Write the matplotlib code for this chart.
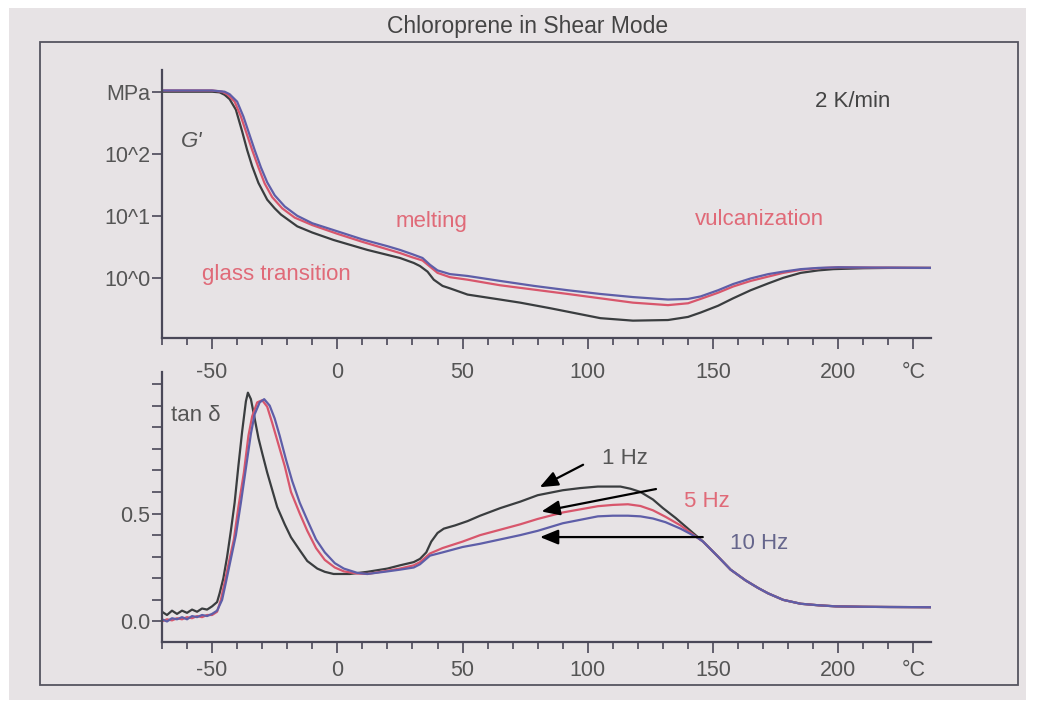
import matplotlib
matplotlib.use('Agg')
import matplotlib.pyplot as plt
import numpy as np
from matplotlib.patches import Rectangle

plt.rcParams['font.family'] = ['Liberation Sans', 'DejaVu Sans']

# storage modulus G' (log10 of MPa)
T_G_1hz = [-70, -60, -50, -47, -45, -43, -40.5, -38, -36, -34, -31.5, -28, -25, -22.5, -16, -10, -1.5, 12, 25, 30.5,
           33, 36, 38.5, 42, 45, 52, 65, 73, 85, 105, 118, 132, 140, 145, 152, 158, 165, 172, 178, 185,
           192, 198, 210, 220, 237]
logG_1hz = [3.0, 3.0, 3.0, 2.99, 2.95, 2.88, 2.71, 2.36, 2.06, 1.80, 1.53, 1.26, 1.12, 1.02, 0.83, 0.73, 0.61, 0.45, 0.32, 0.24,
            0.19, 0.10, -0.03, -0.13, -0.17, -0.27, -0.35, -0.40, -0.49, -0.65, -0.69, -0.68, -0.63, -0.56, -0.45, -0.33, -0.20, -0.09, 0.00, 0.08,
            0.12, 0.14, 0.155, 0.16, 0.16]

T_G_5hz = [-70, -60, -50, -46, -44, -41, -38.5, -36, -34, -31.5, -29, -26, -22, -17, -10, 0, 10, 20, 25, 30,
           34, 37, 40, 45, 52, 65, 78.5, 92, 105, 118, 132, 140, 145, 152, 158, 165, 172, 178, 185, 192,
           200, 215, 237]
logG_5hz = [3.02, 3.02, 3.02, 3.0, 2.96, 2.84, 2.6, 2.3, 2.06, 1.78, 1.52, 1.30, 1.12, 0.97, 0.85, 0.71, 0.58, 0.46, 0.40, 0.33,
            0.28, 0.18, 0.08, 0.01, -0.03, -0.12, -0.19, -0.26, -0.33, -0.40, -0.44, -0.41, -0.34, -0.24, -0.14, -0.05, 0.02, 0.08, 0.13, 0.155,
            0.17, 0.165, 0.16]

T_G_10hz = [-70, -60, -50, -45, -43, -40, -37.5, -35, -33, -30.5, -28, -25, -21, -16, -10, 0, 10, 20, 25, 30,
            34, 37, 40, 45, 52, 65, 78.5, 92, 105, 118, 132, 140, 145, 152, 158, 165, 172, 178, 185, 192,
            200, 215, 237]
logG_10hz = [3.02, 3.02, 3.02, 3.0, 2.96, 2.84, 2.6, 2.3, 2.06, 1.78, 1.54, 1.33, 1.15, 1.0, 0.88, 0.75, 0.62, 0.51, 0.45, 0.38,
             0.32, 0.21, 0.12, 0.06, 0.03, -0.05, -0.13, -0.20, -0.26, -0.31, -0.35, -0.34, -0.30, -0.20, -0.10, -0.01, 0.06, 0.10, 0.14, 0.16,
             0.17, 0.165, 0.16]

# loss factor tan delta
T_tan_1hz = [-70, -68, -66, -64, -62, -60, -58, -56, -54, -52, -50, -48, -47, -45.5, -44, -42.5, -41, -39.5, -38, -36.5,
             -35.7, -34.5, -33, -31.5, -30, -28, -26, -24, -21, -18.5, -15, -12, -8, -5, -1.5, 5, 12, 20, 25, 30.5,
             33, 35.5, 37.5, 40, 42.5, 47, 52, 57, 65, 73, 80, 90, 97, 104, 113, 117, 121, 126, 130, 135,
             141, 146, 152, 157, 163, 168, 172, 178, 185, 192, 199, 210, 220, 237]
tan_1hz = [0.045, 0.03, 0.05, 0.035, 0.05, 0.04, 0.055, 0.045, 0.06, 0.055, 0.07, 0.09, 0.13, 0.2, 0.30, 0.42, 0.55, 0.72, 0.88, 1.02,
           1.06, 1.03, 0.94, 0.85, 0.78, 0.69, 0.61, 0.53, 0.45, 0.39, 0.33, 0.28, 0.245, 0.23, 0.22, 0.22, 0.23, 0.245, 0.26, 0.275,
           0.29, 0.32, 0.37, 0.41, 0.43, 0.445, 0.465, 0.49, 0.525, 0.555, 0.585, 0.608, 0.618, 0.625, 0.625, 0.615, 0.60, 0.565, 0.525, 0.48,
           0.42, 0.37, 0.30, 0.24, 0.19, 0.155, 0.13, 0.10, 0.082, 0.075, 0.07, 0.068, 0.067, 0.066]

T_tan_5hz = [-70, -68, -66, -64, -62, -60, -58, -56, -54, -52, -50, -48, -46.5, -45, -43, -41.3, -39.5, -37.3, -35.5, -34,
             -32, -30, -28, -26, -24, -21, -18.5, -15, -12, -8.5, -5, -1, 2.6, 8, 12, 20, 25, 30.5, 33, 37,
             42, 50, 57, 65, 73, 80, 90, 104, 110, 116, 121, 126, 131, 137, 143.5, 146, 152, 157, 163, 168,
             172, 178, 185, 192, 199, 210, 220, 237]
tan_5hz = [0.0, 0.01, 0.005, 0.015, 0.01, 0.02, 0.015, 0.025, 0.02, 0.03, 0.03, 0.045, 0.1, 0.18, 0.29, 0.38, 0.53, 0.69, 0.86, 0.95,
           1.015, 1.025, 0.995, 0.92, 0.84, 0.72, 0.60, 0.50, 0.42, 0.34, 0.285, 0.25, 0.232, 0.222, 0.22, 0.235, 0.245, 0.26, 0.275, 0.315,
           0.34, 0.37, 0.40, 0.425, 0.45, 0.475, 0.505, 0.534, 0.54, 0.543, 0.535, 0.515, 0.485, 0.445, 0.39, 0.37, 0.30, 0.24, 0.19, 0.155,
           0.13, 0.10, 0.082, 0.075, 0.07, 0.068, 0.067, 0.066]

T_tan_10hz = [-70, -68, -66, -64, -62, -60, -58, -56, -54, -52, -50, -48, -46, -44.5, -42.5, -40.5, -38.5, -36.5, -34.5, -33,
              -31, -29.2, -27, -25, -23, -20.5, -18, -15, -12, -8.5, -5, -1, 2.6, 8, 12, 20, 25, 30.5, 33, 37,
              42, 50, 57, 65, 73, 80, 90, 104, 110, 116, 121, 126, 131, 137, 143.5, 146, 152, 157, 163, 168,
              172, 178, 185, 192, 199, 210, 220, 237]
tan_10hz = [0.01, 0.0, 0.015, 0.01, 0.02, 0.01, 0.025, 0.02, 0.03, 0.025, 0.035, 0.05, 0.1, 0.18, 0.29, 0.40, 0.55, 0.71, 0.87, 0.96,
            1.015, 1.03, 1.0, 0.94, 0.86, 0.75, 0.65, 0.55, 0.47, 0.38, 0.32, 0.27, 0.245, 0.225, 0.22, 0.232, 0.24, 0.25, 0.265, 0.305,
            0.32, 0.345, 0.36, 0.38, 0.40, 0.42, 0.455, 0.487, 0.49, 0.49, 0.487, 0.477, 0.46, 0.43, 0.39, 0.37, 0.30, 0.24, 0.19, 0.155,
            0.13, 0.10, 0.082, 0.075, 0.07, 0.068, 0.067, 0.066]

x_major = [-50, 0, 50, 100, 150, 200, 230]
x_labels = ['-50', '0', '50', '100', '150', '200', '°C']
G_ticks = [1, 10, 100, 1000]
G_labels = ['10^0', '10^1', '10^2', 'MPa']

c_1hz = '#3a3d3f'
c_5hz = '#d8566c'
c_10hz = '#5e5ea8'
paper = '#e7e3e5'
txt = '#555555'
axcol = '#4a4858'

fig = plt.figure(figsize=(10.37, 7.07), dpi=100)
fig.patch.set_facecolor('white')
fig.add_artist(Rectangle((0.0087, 0.0099), 0.981, 0.979, transform=fig.transFigure,
                         facecolor=paper, edgecolor='none', zorder=-10))
fig.add_artist(Rectangle((0.0386, 0.0311), 0.943, 0.9095, transform=fig.transFigure,
                         facecolor='none', edgecolor='#555560', lw=1.3, zorder=-5))
fig.text(0.509, 0.962, 'Chloroprene in Shear Mode', ha='center', va='center',
         fontsize=16.5, color='#444444')

ax1 = fig.add_axes([0.1562, 0.5219, 0.7416, 0.3791])
ax2 = fig.add_axes([0.1562, 0.0926, 0.7416, 0.3816])

for ax in (ax1, ax2):
    ax.set_facecolor('none')
    for s in ('top', 'right'):
        ax.spines[s].set_visible(False)
    for s in ('left', 'bottom'):
        ax.spines[s].set_color(axcol)
        ax.spines[s].set_linewidth(1.6)
    ax.set_xlim(-70, 237)
    ax.set_xticks(x_major)
    ax.set_xticklabels(x_labels)
    ax.set_xticks(np.arange(-70, 231, 10), minor=True)
    ax.tick_params(axis='x', which='major', direction='out', length=8, width=1.2,
                   color=axcol, labelsize=15.5, labelcolor=txt)
    ax.tick_params(axis='x', which='minor', direction='out', length=5, width=1.2, color=axcol)
    ax.tick_params(axis='y', which='major', direction='out', length=7.5, width=1.2,
                   color=axcol, labelsize=15.5, labelcolor=txt, pad=1)

ax1.tick_params(axis='x', pad=9)
ax2.tick_params(axis='x', pad=5)

# top: G'
ax1.plot(T_G_1hz, np.power(10.0, logG_1hz), color=c_1hz, lw=1.6)
ax1.plot(T_G_5hz, np.power(10.0, logG_5hz), color=c_5hz, lw=1.6)
ax1.plot(T_G_10hz, np.power(10.0, logG_10hz), color=c_10hz, lw=1.6)
ax1.set_yscale('log')
ax1.set_ylim(10 ** -0.97, 10 ** 3.35)
ax1.set_yticks(G_ticks)
ax1.set_yticklabels(G_labels)
ax1.minorticks_off()
ax1.set_xticks(np.arange(-70, 231, 10), minor=True)
ax1.tick_params(axis='x', which='minor', direction='out', length=5, width=1.2, color=axcol)

ax1.text(-62.5, 10 ** 2.2, "G'", fontsize=16, style='italic', color=txt, va='center')
ax1.text(190.5, 10 ** 2.84, '2 K/min', fontsize=16, color='#444444', va='center')
ax1.text(23.3, 10 ** 0.9, 'melting', fontsize=16, color='#e06a78', va='center')
ax1.text(-54, 10 ** 0.05, 'glass transition', fontsize=16, color='#e06a78', va='center')
ax1.text(142.9, 10 ** 0.94, 'vulcanization', fontsize=16, color='#e06a78', va='center')

# bottom: tan delta
ax2.plot(T_tan_1hz, tan_1hz, color=c_1hz, lw=1.6)
ax2.plot(T_tan_5hz, tan_5hz, color=c_5hz, lw=1.6)
ax2.plot(T_tan_10hz, tan_10hz, color=c_10hz, lw=1.6)
ax2.set_ylim(-0.093, 1.157)
ax2.set_yticks(np.round(np.arange(0, 1.11, 0.1), 1))
ax2.set_yticklabels(['0.0', '', '', '', '', '0.5', '', '', '', '', '', ''])

ax2.text(-66.5, 0.956, 'tan δ', fontsize=16, color=txt, va='center')
ax2.text(105.7, 0.755, '1 Hz', fontsize=16, color='#555555', va='center')
ax2.text(138.2, 0.554, '5 Hz', fontsize=16, color='#e06a78', va='center')
ax2.text(156.8, 0.36, '10 Hz', fontsize=16, color='#66668c', va='center')

arrow = dict(arrowstyle='-|>,head_length=1.1,head_width=0.45', color='black', lw=1.6)
ax2.annotate('', xy=(79.8, 0.616), xytext=(99.1, 0.732), arrowprops=arrow)
ax2.annotate('', xy=(80.4, 0.507), xytext=(128.3, 0.616), arrowprops=arrow)
ax2.annotate('', xy=(79.8, 0.391), xytext=(147, 0.391), arrowprops=arrow)

fig.savefig('out.png', dpi=100, facecolor=fig.get_facecolor())
